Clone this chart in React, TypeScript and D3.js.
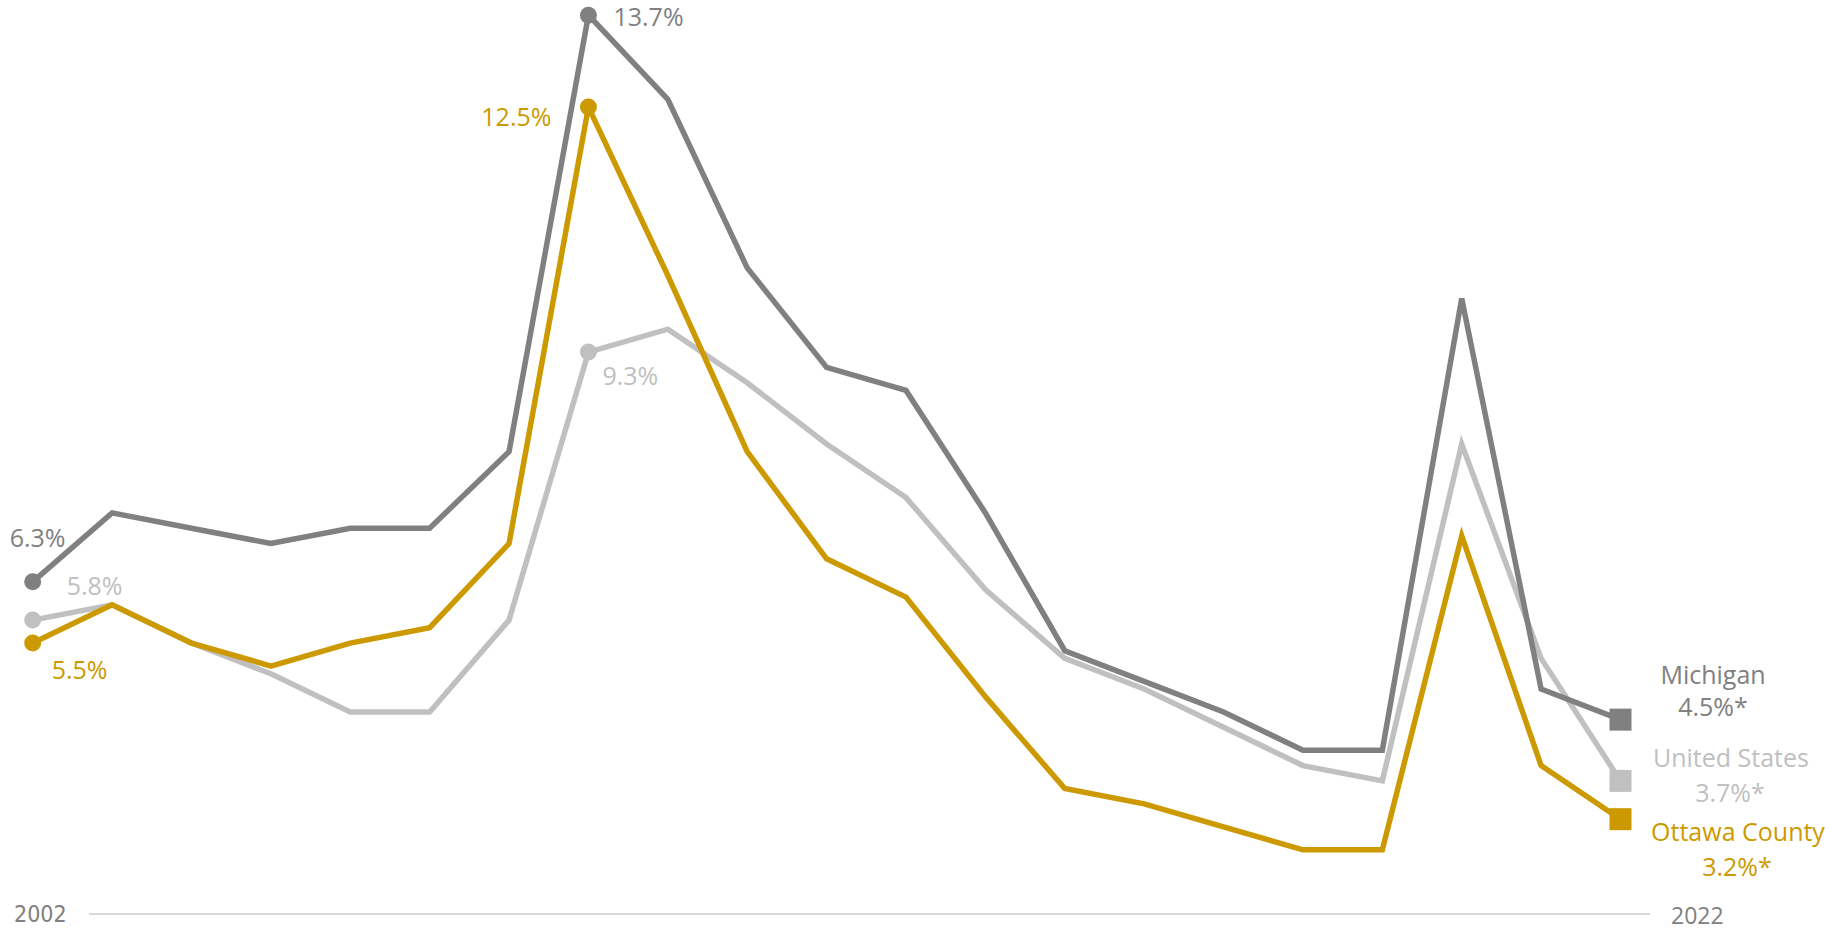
import React from "react";
import * as d3 from "d3";

const years = d3.range(2002, 2023);
const michigan = [6.3, 7.2, 7.0, 6.8, 7.0, 7.0, 8.0, 13.7, 12.6, 10.4, 9.1, 8.8, 7.2, 5.4, 5.0, 4.6, 4.1, 4.1, 10.0, 4.9, 4.5];
const unitedStates = [5.8, 6.0, 5.5, 5.1, 4.6, 4.6, 5.8, 9.3, 9.6, 8.9, 8.1, 7.4, 6.2, 5.3, 4.9, 4.4, 3.9, 3.7, 8.1, 5.3, 3.7];
const ottawa = [5.5, 6.0, 5.5, 5.2, 5.5, 5.7, 6.8, 12.5, 10.3, 8.0, 6.6, 6.1, 4.8, 3.6, 3.4, 3.1, 2.8, 2.8, 6.9, 3.9, 3.2];
const axisLabels = ["2002", "2022"];

const C_MI = "#808080";
const C_US = "#c0c0c0";
const C_OT = "#cc9a00";
const FONT = "'Open Sans', 'Segoe UI', sans-serif";

export default function App() {
  const W = 1832, H = 932;
  const x = d3.scaleLinear().domain([2002, 2022]).range([32.7, 1620.5]);
  const y = d3.scaleLinear().domain([0, 13.7]).range([1064.2, 15.2]);
  const line = d3.line<number>().x((_, i) => x(years[i])).y((d) => y(d));

  const series = [
    { name: "United States", values: unitedStates, color: C_US },
    { name: "Michigan", values: michigan, color: C_MI },
    { name: "Ottawa County", values: ottawa, color: C_OT },
  ];
  const last = years.length - 1;
  const i09 = 7;

  return (
    <svg width={W} height={H} style={{ position: "absolute", left: 0, top: 0 }} fontFamily={FONT}>
      <line x1={89} x2={1650} y1={914} y2={914} stroke="#d9d9d9" strokeWidth={2} />
      <text x={14} y={914} dy="0.35em" fontSize={23} fill={C_MI} fontFamily="'Liberation Sans Narrow', 'DejaVu Sans Condensed', sans-serif">{axisLabels[0]}</text>
      <text x={1671} y={916} dy="0.35em" fontSize={23} fill={C_MI}>{axisLabels[1]}</text>

      {series.map((s) => (
        <g key={s.name}>
          <path d={line(s.values) || ""} fill="none" stroke={s.color} strokeWidth={5.5} strokeLinejoin="miter" />
          <circle cx={x(years[0])} cy={y(s.values[0])} r={8.5} fill={s.color} />
          <circle cx={x(years[i09])} cy={y(s.values[i09])} r={8.5} fill={s.color} />
          <rect x={x(years[last]) - 11} y={y(s.values[last]) - 11} width={22} height={22} fill={s.color} />
        </g>
      ))}

      {/* point labels */}
      <text x={x(2002) - 23} y={y(michigan[0]) - 44} dy="0.35em" fontSize={25} fill={C_MI}>{michigan[0].toFixed(1)}%</text>
      <text x={x(2002) + 34} y={y(unitedStates[0]) - 34} dy="0.35em" fontSize={25} fill={C_US}>{unitedStates[0].toFixed(1)}%</text>
      <text x={x(2002) + 19} y={y(ottawa[0]) + 27} dy="0.35em" fontSize={25} fill={C_OT}>{ottawa[0].toFixed(1)}%</text>
      <text x={x(2009) + 25} y={y(michigan[i09]) + 2} dy="0.35em" fontSize={25} fill={C_MI}>{michigan[i09].toFixed(1)}%</text>
      <text x={x(2009) - 37} y={y(ottawa[i09]) + 10} dy="0.35em" fontSize={25} fill={C_OT} textAnchor="end">{ottawa[i09].toFixed(1)}%</text>
      <text x={x(2009) + 14} y={y(unitedStates[i09]) + 24} dy="0.35em" fontSize={25} fill={C_US}>{unitedStates[i09].toFixed(1)}%</text>

      {/* end labels */}
      <text x={1713} y={675} dy="0.35em" fontSize={25} fill={C_MI} textAnchor="middle">Michigan</text>
      <text x={1713} y={707} dy="0.35em" fontSize={25} fill={C_MI} textAnchor="middle">{michigan[last].toFixed(1)}%*</text>
      <text x={1731} y={758} dy="0.35em" fontSize={25} fill={C_US} textAnchor="middle">United States</text>
      <text x={1730} y={793} dy="0.35em" fontSize={25} fill={C_US} textAnchor="middle">{unitedStates[last].toFixed(1)}%*</text>
      <text x={1738} y={832} dy="0.35em" fontSize={25} fill={C_OT} textAnchor="middle">Ottawa County</text>
      <text x={1737} y={867} dy="0.35em" fontSize={25} fill={C_OT} textAnchor="middle">{ottawa[last].toFixed(1)}%*</text>
    </svg>
  );
}
